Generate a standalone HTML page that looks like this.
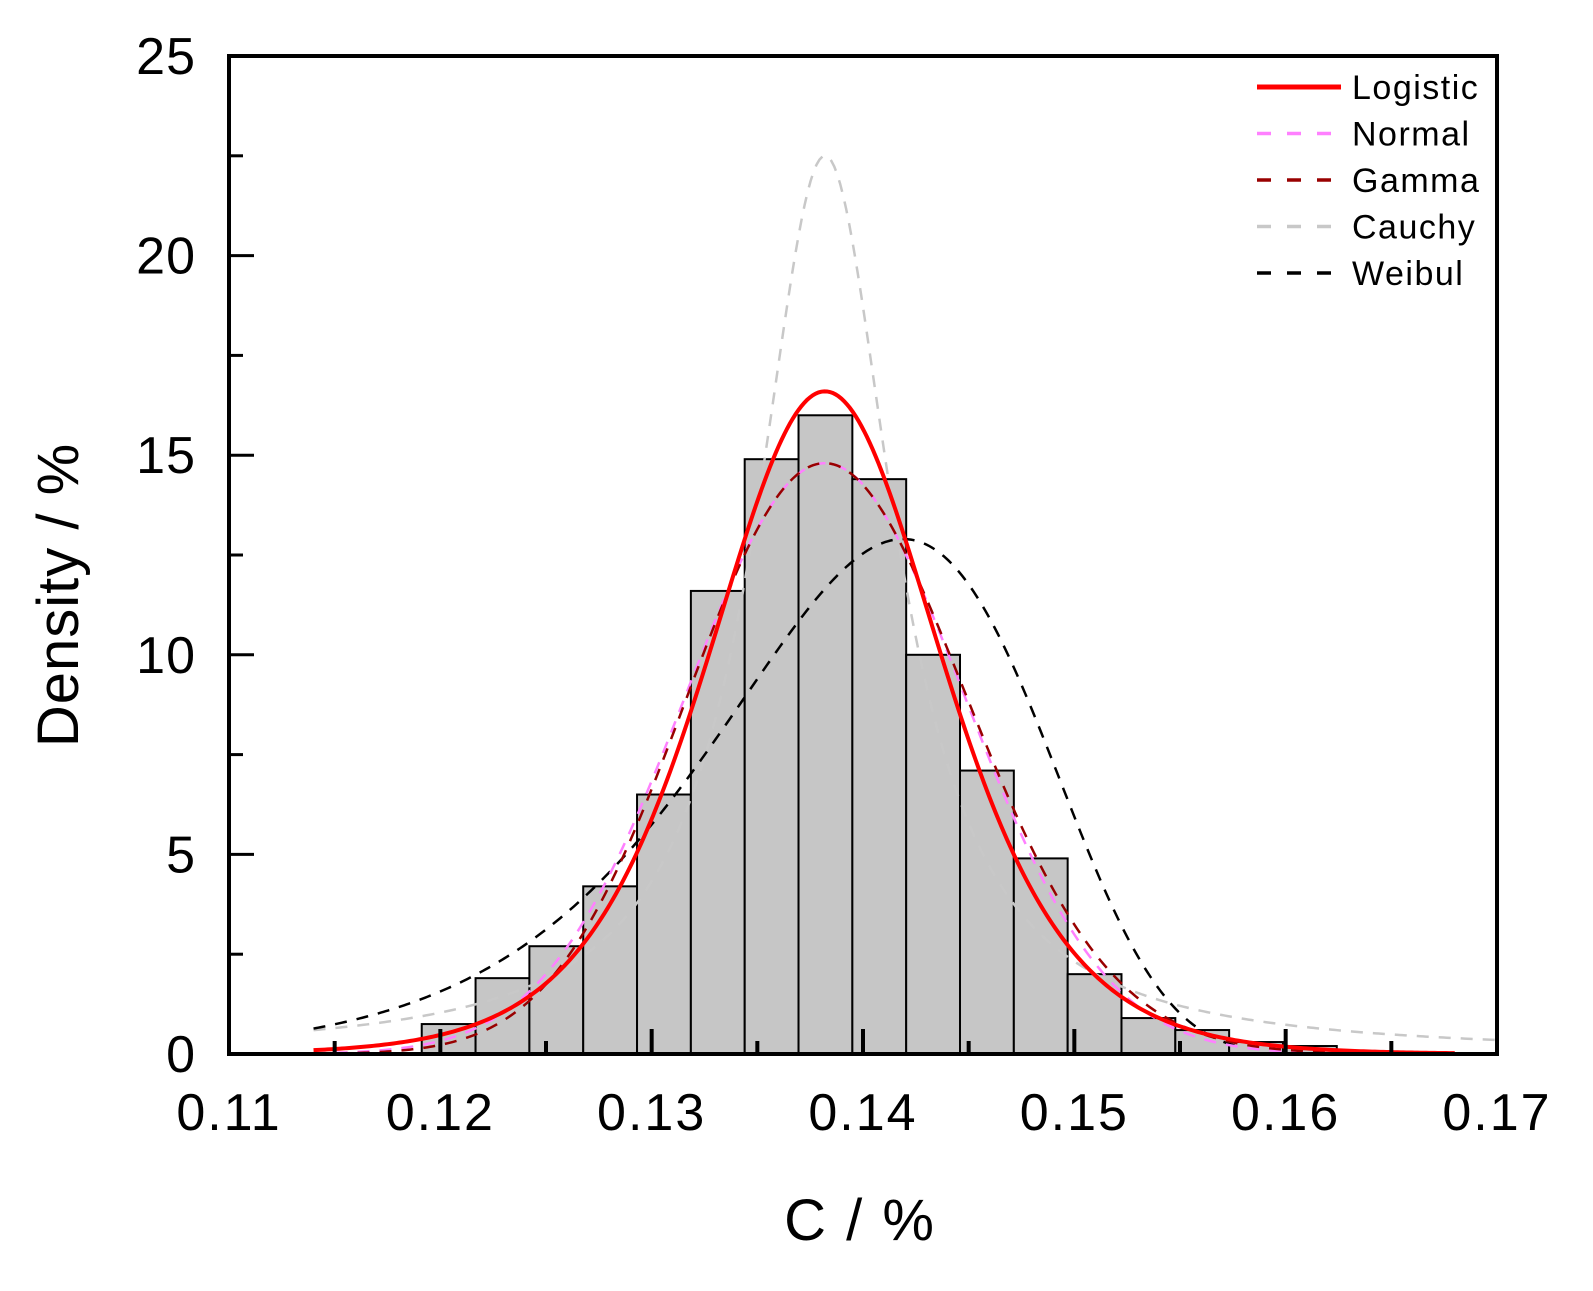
<!DOCTYPE html>
<html><head><meta charset="utf-8"><style>
html,body{margin:0;padding:0;background:#fff}
svg{display:block;font-family:"Liberation Sans",Arial,sans-serif}
</style></head><body>
<svg id="chart" width="1593" height="1291" viewBox="0 0 1593 1291" xmlns="http://www.w3.org/2000/svg">
<g id="bars"></g>
<g id="curves"></g>
<g id="axes"></g>
<text transform="translate(78,595) rotate(-90)" text-anchor="middle" font-size="58" letter-spacing="1">Density / %</text>
<text x="860" y="1240" text-anchor="middle" font-size="58" letter-spacing="2">C / %</text>
<g id="legend"></g>
</svg>
<script>
const binStart = 0.11912;
const binWidth = 0.002547;
const binHeights = [0.75,1.9,2.7,4.2,6.5,11.6,14.9,16.0,14.4,10.0,7.1,4.9,2.0,0.9,0.6,0.3,0.2,0.05,0.05];
const xTicks = [0.11,0.12,0.13,0.14,0.15,0.16,0.17];
const xTickLabels = ["0.11","0.12","0.13","0.14","0.15","0.16","0.17"];
const yTicks = [0,5,10,15,20,25];
const yTickLabels = ["0","5","10","15","20","25"];
const seriesNames = ["Logistic","Normal","Gamma","Cauchy","Weibul"];
const logisticParams = [0.1382,0.0037,16.6];   // center, scale, peak
const normalParams = [0.1382,0.0066,14.8];
const gammaParams = [440,0.1385,14.8];          // shape, mean, peak
const cauchyParams = [0.1382,0.0040,22.5];
const weibullParams = [19,0.1423,12.9];         // shape, scale, peak
const curveRanges = [[0.114,0.168],[0.114,0.162],[0.114,0.162],[0.114,0.17],[0.114,0.158]];

const L=229,R=1497,T=56,B=1054;
const xMin=0.11,xMax=0.17,yMin=0,yMax=25;
const xs=v=>L+(v-xMin)/(xMax-xMin)*(R-L);
const ys=v=>B-(v-yMin)/(yMax-yMin)*(B-T);
const NS="http://www.w3.org/2000/svg";
function mk(tag,attrs,parent){const e=document.createElementNS(NS,tag);for(const k in attrs)e.setAttribute(k,attrs[k]);parent.appendChild(e);return e;}

const gb=document.getElementById('bars');
binHeights.forEach((h,i)=>{
  const x0=xs(binStart+i*binWidth),x1=xs(binStart+(i+1)*binWidth);
  const r=mk('rect',{x:x0,y:ys(h),width:x1-x0,height:ys(0)-ys(h),fill:'#c6c6c6',stroke:'#000','stroke-width':2},gb);
  
  
});

function logistic(x){const [m,s,p]=logisticParams;const u=Math.exp(-(x-m)/s);return p*4*u/((1+u)*(1+u));}
function normal(x){const [m,s,p]=normalParams;return p*Math.exp(-(x-m)*(x-m)/(2*s*s));}
function gammaF(x){const [k,mean,p]=gammaParams;const th=mean/k;const mode=(k-1)*th;
  const lf=z=>(k-1)*Math.log(z)-z/th;return p*Math.exp(lf(x)-lf(mode));}
function cauchy(x){const [m,g,p]=cauchyParams;const d=(x-m)/g;return p/(1+d*d);}
function weibull(x){const [k,l,p]=weibullParams;const f=z=>Math.pow(z/l,k-1)*Math.exp(-Math.pow(z/l,k));
  const mode=l*Math.pow((k-1)/k,1/k);return p*f(x)/f(mode);}
const fns=[logistic,normal,gammaF,cauchy,weibull];
const styles=[{c:'#ff0000',w:4,d:''},{c:'#ff80ff',w:2.5,d:'12 10'},{c:'#990000',w:2.5,d:'12 10'},{c:'#c8c8c8',w:2.5,d:'12 10'},{c:'#000',w:2.5,d:'12 10'}];
const names=['logistic-curve','normal-curve','gamma-curve','cauchy-curve','weibull-curve'];
const gc=document.getElementById('curves');
[3,4,1,2,0].forEach(i=>{
  const [a,b]=curveRanges[i];let d='';
  for(let j=0;j<=400;j++){const x=a+(b-a)*j/400;d+=(j?'L':'M')+xs(x).toFixed(2)+','+ys(fns[i](x)).toFixed(2);}
  const p=mk('path',{d:d,fill:'none',stroke:styles[i].c,'stroke-width':styles[i].w,'stroke-dasharray':styles[i].d},gc);
  
  
});

const ga=document.getElementById('axes');
const fr=mk('rect',{x:L,y:T,width:R-L,height:B-T,fill:'none',stroke:'#000','stroke-width':4},ga);


xTicks.forEach((v,i)=>{
  mk('line',{x1:xs(v),x2:xs(v),y1:B,y2:B-25,stroke:'#000','stroke-width':4},ga);
  if(i<xTicks.length-1){const m=v+0.005;mk('line',{x1:xs(m),x2:xs(m),y1:B,y2:B-13,stroke:'#000','stroke-width':4},ga);}
  const t=mk('text',{x:xs(v),y:1130,'text-anchor':'middle','font-size':52,'letter-spacing':2},ga);t.textContent=xTickLabels[i];
  
  
});
yTicks.forEach((v,i)=>{
  mk('line',{x1:L,x2:L+25,y1:ys(v),y2:ys(v),stroke:'#000','stroke-width':3},ga);
  if(i<yTicks.length-1){const m=v+2.5;mk('line',{x1:L,x2:L+14,y1:ys(m),y2:ys(m),stroke:'#000','stroke-width':3},ga);}
  const t=mk('text',{x:196,y:ys(v)+18,'text-anchor':'end','font-size':52,'letter-spacing':1},ga);t.textContent=yTickLabels[i];
  
  
});

const gl=document.getElementById('legend');
seriesNames.forEach((n,i)=>{
  const y=87+i*46.5;
  const ln=mk('line',{x1:1257,x2:1341,y1:y,y2:y,stroke:styles[i].c,'stroke-width':i==0?5:3.5,'stroke-dasharray':i==0?'':'14 16'},gl);
  
  
  const t=mk('text',{x:1352,y:y+12,'font-size':34,'letter-spacing':1.5},gl);t.textContent=n;
  
  
});
</script>
</body></html>
